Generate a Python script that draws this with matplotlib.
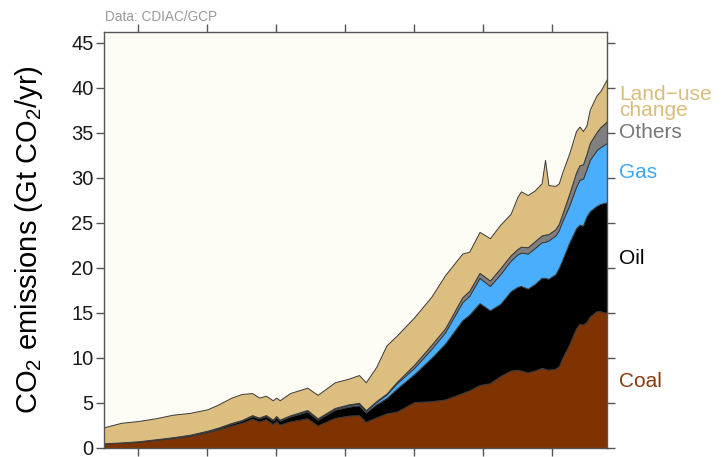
import matplotlib
matplotlib.use("Agg")
import matplotlib.pyplot as plt
import matplotlib.transforms as mtransforms
import numpy as np

plt.rcParams['font.family'] = ['Liberation Sans', 'DejaVu Sans']
plt.rcParams['mathtext.fontset'] = 'custom'
plt.rcParams['mathtext.rm'] = 'Liberation Sans'

# values (Gt CO2 / yr), each layer on its own
years = [1870, 1875, 1880, 1885, 1890, 1895, 1900, 1903, 1907, 1910, 1913, 1915, 1917,
         1919, 1920, 1921, 1924, 1929, 1932, 1937, 1941, 1944, 1946, 1949, 1952, 1955,
         1960, 1965, 1969, 1974, 1976, 1979, 1982, 1985, 1988, 1990, 1991, 1993, 1995,
         1997, 1998, 1999, 2001, 2002, 2003, 2005, 2007, 2008, 2009, 2010, 2011, 2013,
         2014, 2016]
coal = [0.50, 0.58, 0.70, 0.90, 1.10, 1.35, 1.75, 2.05, 2.50, 2.80, 3.25, 2.95, 3.20,
        2.65, 3.00, 2.60, 2.95, 3.30, 2.50, 3.35, 3.60, 3.65, 2.90, 3.40, 3.85, 4.05,
        5.10, 5.20, 5.40, 6.10, 6.40, 7.00, 7.20, 8.00, 8.60, 8.70, 8.60, 8.40, 8.60,
        8.90, 8.80, 8.70, 8.80, 9.10, 10.00, 11.50, 13.30, 13.80, 13.70, 14.00, 14.60, 15.20,
        15.20, 15.00]
oil = [0.02, 0.03, 0.04, 0.05, 0.07, 0.10, 0.13, 0.15, 0.20, 0.23, 0.30, 0.33, 0.35,
       0.40, 0.45, 0.45, 0.55, 0.75, 0.65, 0.90, 1.00, 1.10, 1.05, 1.45, 1.70, 2.55,
       3.10, 4.80, 6.20, 8.10, 8.40, 9.10, 8.10, 8.00, 8.80, 9.20, 9.40, 9.30, 9.60,
       10.00, 10.10, 10.10, 10.50, 10.90, 10.90, 11.30, 11.10, 11.00, 11.00, 11.70, 11.70, 11.70,
       11.90, 12.30]
gas = [0.00, 0.00, 0.00, 0.01, 0.01, 0.01, 0.02, 0.03, 0.04, 0.04, 0.05, 0.05, 0.05,
       0.05, 0.05, 0.05, 0.07, 0.10, 0.10, 0.13, 0.15, 0.17, 0.17, 0.25, 0.40, 0.60,
       0.70, 1.00, 1.25, 2.00, 2.10, 2.80, 2.70, 3.30, 3.40, 3.60, 3.70, 3.90, 4.00,
       3.95, 4.00, 4.25, 4.30, 4.20, 4.30, 4.10, 4.60, 5.00, 5.20, 5.20, 5.70, 6.20,
       6.30, 6.60]
others = [0.01, 0.01, 0.01, 0.01, 0.02, 0.02, 0.02, 0.02, 0.04, 0.04, 0.05, 0.05, 0.06,
          0.05, 0.06, 0.05, 0.06, 0.07, 0.05, 0.07, 0.10, 0.10, 0.08, 0.10, 0.10, 0.15,
          0.35, 0.45, 0.45, 0.55, 0.55, 0.55, 0.60, 0.65, 0.60, 0.60, 0.65, 0.70, 0.75,
          0.75, 0.80, 0.70, 0.70, 0.70, 0.80, 1.30, 1.60, 1.60, 1.60, 1.70, 1.90, 2.00,
          2.20, 2.40]
land_use = [1.77, 2.18, 2.25, 2.33, 2.50, 2.42, 2.38, 2.55, 2.82, 2.89, 2.45, 2.22, 2.14,
            2.15, 2.04, 2.15, 2.47, 2.48, 2.60, 2.85, 2.85, 3.08, 3.10, 3.80, 5.35, 5.15,
            5.25, 5.35, 5.90, 4.85, 4.35, 4.55, 4.70, 4.85, 4.60, 5.80, 6.15, 5.80, 5.65,
            5.80, 8.30, 5.45, 4.80, 4.50, 4.60, 4.50, 4.60, 4.30, 3.70, 3.20, 3.70, 4.10,
            4.00, 4.70]

labels = ['Coal', 'Oil', 'Gas', 'Others', 'Land\u2212use\nchange']
colors = ['#7f3300', '#000000', '#4aaeff', '#808080', '#dcbf80']
text_colors = ['#8a3a0c', '#000000', '#3ea6f5', '#777777', '#d9bd7c']
label_y = [7.4, 21.0, 30.6, 35.0, 38.4]

fig = plt.figure(figsize=(7.27, 4.57), dpi=100)
ax = fig.add_axes([0.143, 0.0197, 0.692, 0.9103])
ax.set_facecolor('#fdfdf6')

ax.stackplot(years, coal, oil, gas, others, land_use, colors=colors,
             edgecolor='#3a3a3a', linewidth=0.7)

ax.set_xlim(1870, 2016)
ax.set_ylim(0, 46.2)
ax.set_yticks(np.arange(0, 46, 5))
ax.set_xticks(np.arange(1880, 2001, 20))
ax.set_xticklabels([])
ax.tick_params(axis='both', direction='out', length=5.5, width=1, color='#555555',
               labelsize=14.5, pad=2, top=True, right=True, labelcolor='#1a1a1a')
for s in ax.spines.values():
    s.set_color('#555555')
    s.set_linewidth(1)

ax.set_ylabel('CO$_2$ emissions (Gt CO$_2$/yr)', fontsize=21)
ax.yaxis.set_label_coords(-0.117, 0.5)

tr = mtransforms.blended_transform_factory(ax.transAxes, ax.transData)
for lab, c, y in zip(labels, text_colors, label_y):
    ax.text(1.024, y, lab, color=c, fontsize=15, transform=tr,
            ha='left', va='center', linespacing=0.78)

fig.text(0.144, 0.963, 'Data: CDIAC/GCP', color='#999999', fontsize=9.8,
         ha='left', va='center')

fig.savefig('out.png', dpi=100)
